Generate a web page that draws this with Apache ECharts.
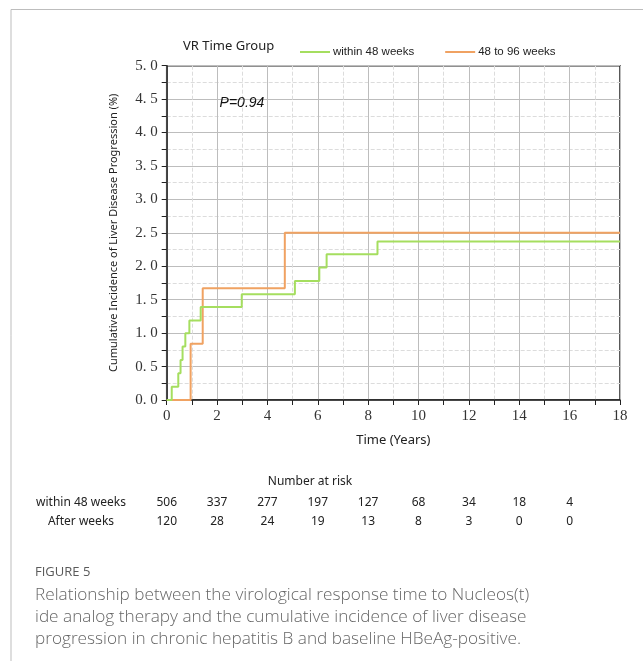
<!DOCTYPE html>
<html><head><meta charset="utf-8">
<script src="https://cdn.jsdelivr.net/npm/echarts@6/dist/echarts.min.js"></script>
<style>html,body{margin:0;padding:0;background:#fff;}#c{width:643px;height:661px;}</style>
</head><body><div id="c"></div>
<script>
// ---- data ----
const seriesNames = ['within 48 weeks', '48 to 96 weeks'];
const within48Time = [0, 0.2, 0.46, 0.55, 0.63, 0.74, 0.9, 1.35, 2.98, 5.09, 6.06, 6.35, 8.37, 18];
const within48Inc  = [0, 0.2, 0.4, 0.6, 0.8, 1.0, 1.19, 1.39, 1.58, 1.78, 1.98, 2.18, 2.37, 2.37];
const to96Time = [0, 0.95, 1.43, 4.69, 18];
const to96Inc  = [0, 0.84, 1.67, 2.5, 2.5];
const riskTimes = [0, 2, 4, 6, 8, 10, 12, 14, 16];
const riskRowLabels = ['within 48 weeks', 'After weeks'];
const riskWithin48 = [506, 337, 277, 197, 127, 68, 34, 18, 4];
const riskAfter = [120, 28, 24, 19, 13, 8, 3, 0, 0];
const pText = 'P=0.94';
const captionTitle = 'FIGURE 5';
const captionLines = [
  'Relationship between the virological response time to Nucleos(t)',
  'ide analog therapy and the cumulative incidence of liver disease',
  'progression in chronic hepatitis B and baseline HBeAg-positive.'
];

const green = '#a5de5f';
const orange = '#f0a262';
const serif = '"Liberation Serif", "DejaVu Serif", serif';
const sans = '"Noto Sans", "DejaVu Sans", sans-serif';
const arial = '"Liberation Sans", Arial, sans-serif';

const chart = echarts.init(document.getElementById('c'), null, {renderer: 'canvas'});
const zip = (a, b) => a.map((v, i) => [v, b[i]]);

const option = {
  animation: false,
  backgroundColor: '#fff',
  grid: {left: 166.7, right: 23, top: 65.7, bottom: 261, show: true, borderColor: '#222', borderWidth: 1.5, backgroundColor: 'transparent'},
  legend: {
    left: 295, top: 41, itemWidth: 30, itemHeight: 2, itemGap: 31, icon: 'rect',
    textStyle: {fontFamily: arial, fontSize: 11.5, color: '#222', padding: [0, 0, 0, -2]},
    data: seriesNames
  },
  xAxis: {
    type: 'value', min: 0, max: 18, interval: 2,
    name: 'Time (Years)', nameLocation: 'middle', nameGap: 34,
    nameTextStyle: {fontFamily: sans, fontSize: 13, color: '#222'},
    axisLine: {show: true, lineStyle: {color: '#222', width: 1.5}},
    axisTick: {show: true, inside: false, length: 5, lineStyle: {color: '#222'}},
    minorTick: {show: true, splitNumber: 2, length: 5, lineStyle: {color: '#222'}},
    axisLabel: {fontFamily: serif, fontSize: 15, color: '#333', margin: 9},
    splitLine: {show: true, lineStyle: {color: '#bdbdbd', width: 1}},
    minorSplitLine: {show: true, lineStyle: {color: '#dcdcdc', type: 'dashed', width: 1}}
  },
  yAxis: {
    type: 'value', min: 0, max: 5, interval: 0.5,
    name: 'Cumulative Incidence of Liver Disease Progression (%)', nameLocation: 'middle', nameGap: 47,
    nameTextStyle: {fontFamily: sans, fontSize: 11, color: '#222'},
    axisLine: {show: true, lineStyle: {color: '#222', width: 1.5}},
    axisTick: {show: true, inside: false, length: 5, lineStyle: {color: '#222'}},
    minorTick: {show: true, splitNumber: 2, length: 5, lineStyle: {color: '#222'}},
    axisLabel: {fontFamily: serif, fontSize: 15, color: '#333', margin: 9,
      formatter: v => v.toFixed(1).replace('.', '. ')},
    splitLine: {show: true, lineStyle: {color: '#bdbdbd', width: 1}},
    minorSplitLine: {show: true, lineStyle: {color: '#dcdcdc', type: 'dashed', width: 1}}
  },
  series: [
    {name: seriesNames[0], type: 'line', step: 'end', showSymbol: false, symbol: 'none',
     data: zip(within48Time, within48Inc), lineStyle: {color: green, width: 2}, itemStyle: {color: green}, z: 3},
    {name: seriesNames[1], type: 'line', step: 'end', showSymbol: false, symbol: 'none',
     data: zip(to96Time, to96Inc), lineStyle: {color: orange, width: 2}, itemStyle: {color: orange}, z: 2}
  ]
};
chart.setOption(option);

const px = (x, y) => chart.convertToPixel({gridIndex: 0}, [x, y]);
const g = [];
// outer frame
g.push({type: 'line', shape: {x1: 11, y1: 9.5, x2: 643, y2: 9.5}, style: {stroke: '#bdbdbd', lineWidth: 1}});
g.push({type: 'line', shape: {x1: 11, y1: 9.5, x2: 11, y2: 661}, style: {stroke: '#bdbdbd', lineWidth: 1}});
// legend title
g.push({type: 'text', left: 183, top: 40, style: {text: 'VR Time Group', font: '13px ' + sans, fill: '#222'}});
// P value
const pp = px(2.1, 4.44);
g.push({type: 'text', x: pp[0], y: pp[1], style: {text: pText, font: 'italic 14px ' + arial, fill: '#111', textVerticalAlign: 'middle'}});
// number at risk
g.push({type: 'text', x: 310, y: 482, style: {text: 'Number at risk', font: '12px ' + sans, fill: '#222', textAlign: 'center', textVerticalAlign: 'middle'}});
const rows = [riskWithin48, riskAfter];
const rowY = [503, 522];
rows.forEach((row, r) => {
  g.push({type: 'text', x: 81, y: rowY[r], style: {text: riskRowLabels[r], font: '12px ' + sans, fill: '#222', textAlign: 'center', textVerticalAlign: 'middle'}});
  row.forEach((v, i) => {
    const p = px(riskTimes[i], 0);
    g.push({type: 'text', x: p[0], y: rowY[r], style: {text: String(v), font: '12px ' + sans, fill: '#222', textAlign: 'center', textVerticalAlign: 'middle'}});
  });
});
// caption
g.push({type: 'text', x: 35, y: 572, style: {text: captionTitle, font: '500 13px "Open Sans", ' + sans, fill: '#5a5a5a', textVerticalAlign: 'middle'}});
captionLines.forEach((t, i) => {
  g.push({type: 'text', x: 35, y: 595 + i * 22, style: {text: t, font: '300 17.2px "Open Sans", ' + sans, fill: '#666', textVerticalAlign: 'middle'}});
});
chart.setOption({graphic: g});
</script></body></html>
